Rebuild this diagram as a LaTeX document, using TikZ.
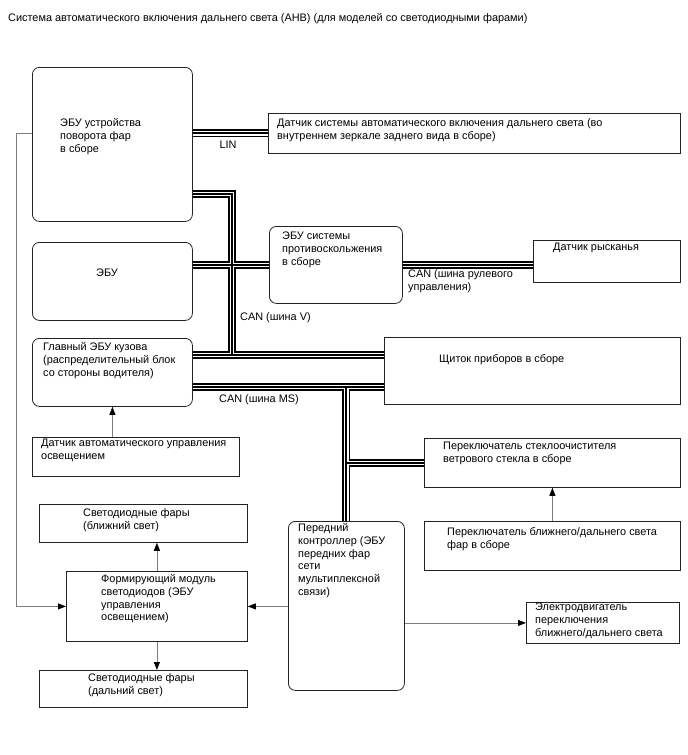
\documentclass[tikz,border=0pt]{standalone}
\usepackage{fontspec}
\setmainfont{Liberation Sans}
\usetikzlibrary{arrows.meta,positioning}
\definecolor{EdgeBlack}{RGB}{35,35,35}
\definecolor{LineGray}{RGB}{125,125,125}

% the three passes of a bus line
\newcommand{\busroutes}[1]{%
  \draw[#1] (turn.east |- mirror.west) -- (mirror.west);
  \draw[#1] ([yshift=28pt]turn.south east) -| (vjoin);
  \draw[#1] (ecu.east |- abs.west) -- (abs.west);
  \draw[#1] (abs.east) -- (yaw.west |- abs.east);
  \draw[#1] (main.east |- vjoin) -- (panel.west |- vjoin);
  \draw[#1] (main.east |- msjoin) -- (panel.west |- msjoin);
  \draw[#1] (msjoin) -- (front.north);
  \draw[#1] (msjoin |- wiper.west) -- (wiper.west);
}

\begin{document}
\begin{tikzpicture}[
  x=1pt, y=-1pt,
  font=\fontsize{10.9}{12.9}\selectfont,
  sbox/.style={draw=EdgeBlack, line width=0.8pt, anchor=north west, inner sep=0pt},
  rbox/.style={sbox, rounded corners=7pt},
  txt/.style={anchor=north west, inner sep=0pt, align=left},
  buslbl/.style={inner sep=0pt},
  busouter/.style={line width=8pt, draw=black},
  busgap/.style={line width=4.6pt, draw=white},
  buscore/.style={line width=2pt, draw=black},
  arrow/.style={-{Triangle[length=8pt,width=6pt,color=black]}, draw=LineGray, line width=0.8pt}
]
\useasboundingbox (0,0) rectangle (688,755);

\node[txt] (title) at (8,13) {Система автоматического включения дальнего света (АНВ) (для моделей со светодиодными фарами)};

% boxes
\node[rbox, minimum width=160pt, minimum height=154pt] (turn) at (32,67) {};
\node[sbox, minimum width=412pt, minimum height=40pt] (mirror) at (268,113) {};
\node[rbox, minimum width=160pt, minimum height=78pt] (ecu) at (32,242) {};
\node[rbox, minimum width=133pt, minimum height=77pt] (abs) at (269,226) {};
\node[sbox, minimum width=147pt, minimum height=42pt] (yaw) at (533,240) {};
\node[rbox, minimum width=160pt, minimum height=68pt] (main) at (32,338) {};
\node[sbox, minimum width=296pt, minimum height=67pt] (panel) at (384,337) {};
\node[sbox, minimum width=207pt, minimum height=39pt] (sensor) at (32,437) {};
\node[sbox, minimum width=256pt, minimum height=49pt] (wiper) at (424,438) {};
\node[sbox, minimum width=208pt, minimum height=38pt] (low) at (39,504) {};
\node[sbox, minimum width=256pt, minimum height=49pt] (hlsw) at (424,521) {};
\node[rbox, minimum width=116pt, minimum height=169pt] (front) at (288,521) {};
\node[sbox, minimum width=181pt, minimum height=70pt] (module) at (66,571) {};
\node[sbox, minimum width=153pt, minimum height=41pt] (motor) at (526,602) {};
\node[sbox, minimum width=208pt, minimum height=37pt] (high) at (39,670) {};

% texts
\node[txt, below right=51pt and 28pt of turn.north west] {ЭБУ устройства\\поворота фар\\в сборе};
\node[txt, below right=5pt and 9pt of mirror.north west] {Датчик системы автоматического включения дальнего света (во\\внутреннем зеркале заднего вида в сборе)};
\node (ecutxt) at (107,273) {ЭБУ};
\node[txt, below right=6pt and 13pt of abs.north west] {ЭБУ системы\\противоскольжения\\в сборе};
\node[txt, below right=3pt and 20pt of yaw.north west] {Датчик рысканья};
\node[txt, below right=4pt and 11pt of main.north west] {Главный ЭБУ кузова\\(распределительный блок\\со стороны водителя)};
\node[txt, below right=17pt and 55pt of panel.north west] {Щиток приборов в сборе};
\node[txt, below right=2pt and 9pt of sensor.north west] {Датчик автоматического управления\\освещением};
\node[txt, below right=4pt and 19pt of wiper.north west] {Переключатель стеклоочистителя\\ветрового стекла в сборе};
\node[txt, below right=4pt and 44pt of low.north west] {Светодиодные фары\\(ближний свет)};
\node[txt, below right=6pt and 23pt of hlsw.north west] {Переключатель ближнего/дальнего света\\фар в сборе};
\node[txt, below right=2pt and 10pt of front.north west] {Передний\\контроллер (ЭБУ\\передних фар\\сети\\мультиплексной\\связи)};
\node[txt, below right=3pt and 35pt of module.north west] {Формирующий модуль\\светодиодов (ЭБУ\\управления\\освещением)};
\node[txt, below right=1pt and 9pt of motor.north west] {Электродвигатель\\переключения\\ближнего/дальнего света};
\node[txt, below right=3pt and 49pt of high.north west] {Светодиодные фары\\(дальний свет)};

% bus joints
\coordinate (vjoin) at (232,355);
\coordinate (msjoin) at (front.north |- 0,387);

\busroutes{busouter}
\busroutes{busgap}
\busroutes{buscore}

% bus labels
\node[buslbl] (lin) at (228,145) {LIN};
\node[buslbl, anchor=west] (canv) at (240,318) {CAN (шина V)};
\node[buslbl, txt] (cansteer) at (408,269) {CAN (шина рулевого\\управления)};
\node[buslbl, anchor=west] (canms) at (219,400) {CAN (шина MS)};

% signal lines
\draw[arrow] (main.south |- sensor.north) -- (main.south);
\draw[arrow] (hlsw.north) -- (wiper.south);
\draw[arrow] (front.east |- motor.west) -- (motor.west);
\draw[arrow] (front.west |- module.east) -- (module.east);
\draw[arrow] (module.north) -- (module.north |- low.south);
\draw[arrow] (module.south) -- (module.south |- high.north);
\draw[arrow] ([yshift=11pt]turn.west) -- ++(-16,0) |- (module.west);
\end{tikzpicture}
\end{document}
